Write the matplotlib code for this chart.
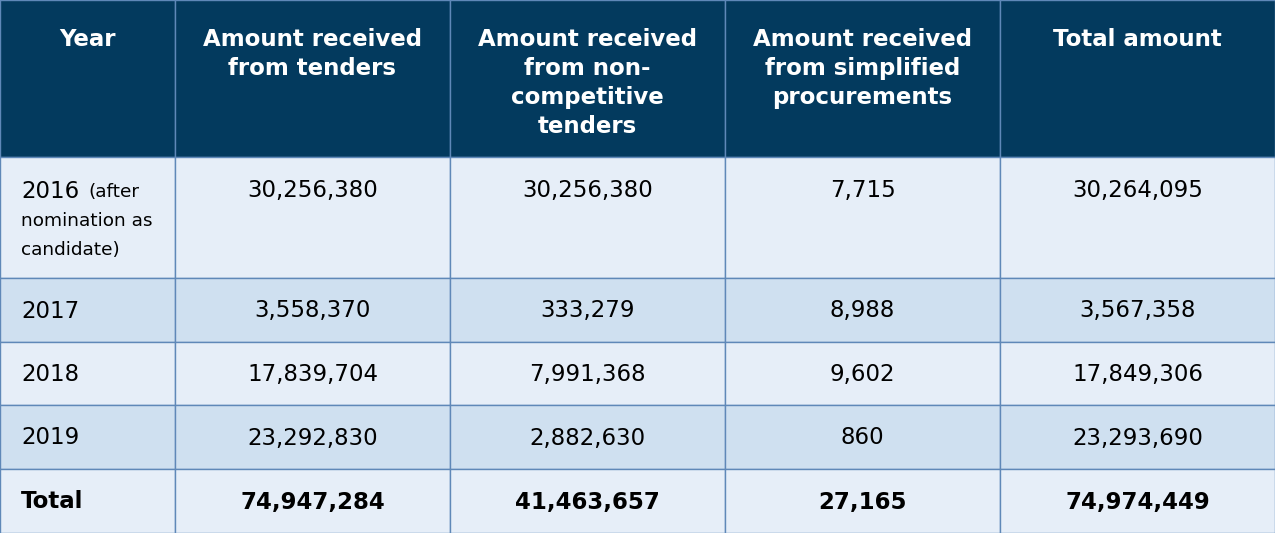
import matplotlib
matplotlib.use("Agg")
import matplotlib.pyplot as plt
from matplotlib.patches import Rectangle

plt.rcParams['font.family'] = ['DejaVu Sans']

headers = ["Year", "Amount received\nfrom tenders", "Amount received\nfrom non-\ncompetitive\ntenders",
           "Amount received\nfrom simplified\nprocurements", "Total amount"]
years = ["2016", "2017", "2018", "2019", "Total"]
tenders = [30256380, 3558370, 17839704, 23292830, 74947284]
non_competitive = [30256380, 333279, 7991368, 2882630, 41463657]
simplified = [7715, 8988, 9602, 860, 27165]
total = [30264095, 3567358, 17849306, 23293690, 74974449]

W, H = 1275, 533
col_w = [175, 275, 275, 275, 275]
row_h = [157, 121, 64, 63, 64, 64]

HEADER = "#033a5e"
LIGHT = "#e6eef8"
DARK = "#cfe0f0"
GRID = "#5f88b8"

fig = plt.figure(figsize=(W / 100, H / 100), dpi=100)
ax = fig.add_axes([0, 0, 1, 1])
ax.set_xlim(0, W)
ax.set_ylim(H, 0)
ax.axis("off")

xs = [0]
for w in col_w:
    xs.append(xs[-1] + w)
ys = [0]
for h in row_h:
    ys.append(ys[-1] + h)

fills = [HEADER, LIGHT, DARK, LIGHT, DARK, LIGHT]
for r in range(len(row_h)):
    for c in range(len(col_w)):
        ax.add_patch(Rectangle((xs[c], ys[r]), col_w[c], row_h[r],
                               facecolor=fills[r], edgecolor=GRID, linewidth=1.0))

fs = 16.5
# header
for c, htext in enumerate(headers):
    ax.text(xs[c] + col_w[c] / 2, 28, htext, ha="center", va="top", color="white",
            fontsize=fs, fontweight="bold", linespacing=1.33)

cols = [tenders, non_competitive, simplified, total]
small = 13.3
for r in range(5):
    top, h = ys[r + 1], row_h[r + 1]
    bold = (r == 4)
    weight = "bold" if bold else "normal"
    if r == 0:
        yc = top + 34
    else:
        yc = top + h / 2 + 1
    ax.text(21, yc, years[r], ha="left", va="center", fontsize=fs, fontweight=weight, color="black")
    if r == 0:
        ax.text(88, yc + 1, "(after", ha="left", va="center", fontsize=small, color="black")
        ax.text(21, yc + 30, "nomination as", ha="left", va="center", fontsize=small, color="black")
        ax.text(21, yc + 59, "candidate)", ha="left", va="center", fontsize=small, color="black")
    for c, series in enumerate(cols):
        ax.text(xs[c + 1] + col_w[c + 1] / 2, yc, f"{series[r]:,}", ha="center", va="center",
                fontsize=fs, fontweight=weight, color="black")

fig.savefig("out.png", dpi=100)
